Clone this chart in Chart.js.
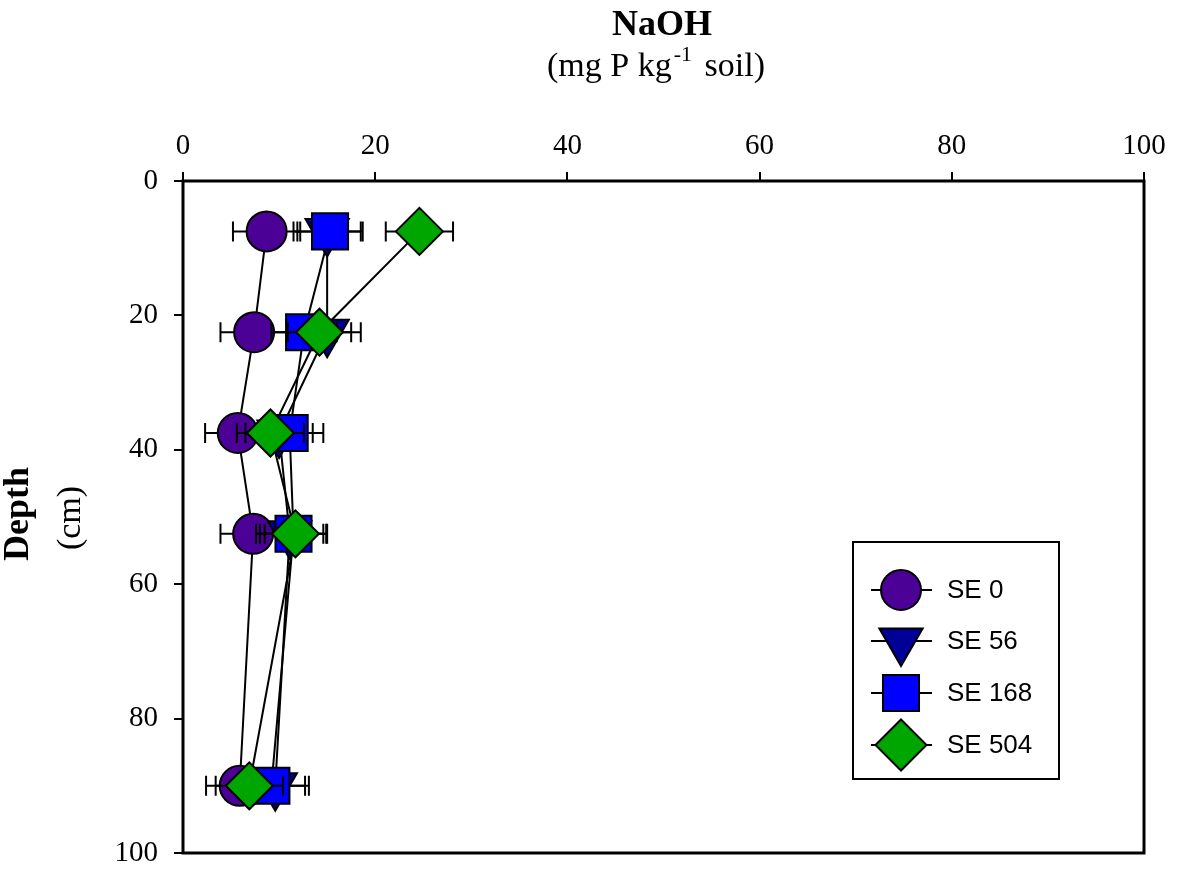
<!DOCTYPE html>
<html>
<head>
<meta charset="utf-8">
<script src="https://cdn.jsdelivr.net/npm/chart.js@4.4.1/dist/chart.umd.min.js"></script>
<style>
  html, body { margin: 0; padding: 0; background: #ffffff; }
  #wrap { width: 1180px; height: 869px; position: relative; }
</style>
</head>
<body>
<div id="wrap"><canvas id="c" width="1180" height="869"></canvas></div>
<script>
// Sampling depths (cm) and NaOH-extractable P (mg P kg-1 soil) per treatment
const depths = [7.5, 22.5, 37.5, 52.5, 90];
const seriesNames = ['SE 0', 'SE 56', 'SE 168', 'SE 504'];
const se0   = [8.7, 7.4, 5.7, 7.3, 5.9];
const se56  = [15.0, 15.0, 10.0, 11.1, 9.6];
const se168 = [15.3, 12.6, 11.1, 11.5, 9.2];
const se504 = [24.6, 14.2, 9.1, 11.7, 6.9];
// Standard errors (horizontal whiskers)
const err0   = [3.5, 3.5, 3.4, 3.4, 3.5];
const err56  = [3.5, 3.5, 3.5, 3.5, 3.5];
const err168 = [3.4, 3.4, 3.5, 3.5, 3.5];
const err504 = [3.5, 3.3, 3.5, 3.2, 3.5];
const xTicks = [0, 20, 40, 60, 80, 100];
const yTicks = [0, 20, 40, 60, 80, 100];

const colors = ['#4B0096', '#000099', '#0000FF', '#00A600'];
const shapes = ['circle', 'triangle', 'rect', 'rectRot'];
const radii = [20, 25, 25.5, 23.5];
const rotations = [0, 180, 0, 0];

const values = [se0, se56, se168, se504];
const errors = [err0, err56, err168, err504];

const serif = '"Liberation Serif", "Times New Roman", serif';
const sans = '"Liberation Sans", Arial, sans-serif';

const datasets = values.map((vals, i) => ({
  label: seriesNames[i],
  data: vals.map((v, k) => ({ x: v, y: depths[k] })),
  errors: errors[i],
  showLine: true,
  borderColor: '#000000',
  borderWidth: 2,
  pointStyle: shapes[i],
  pointRadius: radii[i],
  pointRotation: rotations[i],
  pointBackgroundColor: colors[i],
  pointBorderColor: '#000000',
  pointBorderWidth: 2,
  order: values.length - i
}));

// Horizontal error bars, drawn just before each series' line and markers
const errorBars = {
  id: 'errorBars',
  beforeDatasetDraw(chart, args) {
    const ds = chart.data.datasets[args.index];
    const xs = chart.scales.x, ys = chart.scales.y;
    const ctx = chart.ctx;
    ctx.save();
    ctx.strokeStyle = '#000';
    ctx.lineWidth = 2;
    ds.data.forEach((p, k) => {
      const e = ds.errors[k];
      const y = ys.getPixelForValue(p.y);
      const x0 = xs.getPixelForValue(p.x - e);
      const x1 = xs.getPixelForValue(p.x + e);
      ctx.beginPath();
      ctx.moveTo(x0, y); ctx.lineTo(x1, y);
      ctx.moveTo(x0, y - 10); ctx.lineTo(x0, y + 10);
      ctx.moveTo(x1, y - 10); ctx.lineTo(x1, y + 10);
      ctx.stroke();
    });
    ctx.restore();
  }
};

// Plot frame
const frame = {
  id: 'frame',
  beforeDatasetsDraw(chart) {
    const a = chart.chartArea, ctx = chart.ctx;
    ctx.save();
    ctx.strokeStyle = '#000';
    ctx.lineWidth = 3;
    ctx.strokeRect(a.left, a.top, a.right - a.left, a.bottom - a.top);
    ctx.restore();
  }
};

// Axis titles and legend box
const annotations = {
  id: 'annotations',
  afterDraw(chart) {
    const ctx = chart.ctx;
    ctx.save();
    ctx.fillStyle = '#000';
    // top title
    ctx.textAlign = 'center';
    ctx.textBaseline = 'alphabetic';
    ctx.font = 'bold 36px ' + serif;
    ctx.fillText('NaOH', 662, 35);
    // unit line with superscript
    const partA = '(mg P kg', partSup = '-1', partB = ' soil)';
    ctx.font = '34px ' + serif;
    const wA = ctx.measureText(partA).width;
    const wB = ctx.measureText(partB).width;
    ctx.font = '22px ' + serif;
    const wS = ctx.measureText(partSup).width;
    const total = wA + wS + 6 + wB;
    let x = 656 - total / 2;
    ctx.textAlign = 'left';
    ctx.font = '34px ' + serif;
    ctx.fillText(partA, x, 76);
    x += wA + 2;
    ctx.font = '22px ' + serif;
    ctx.fillText(partSup, x, 61);
    x += wS + 4;
    ctx.font = '34px ' + serif;
    ctx.fillText(partB, x, 76);

    // left title, rotated
    ctx.save();
    ctx.translate(28, 514);
    ctx.rotate(-Math.PI / 2);
    ctx.textAlign = 'center';
    ctx.font = 'bold 36px ' + serif;
    ctx.fillText('Depth', 0, 0);
    ctx.restore();
    ctx.save();
    ctx.translate(80, 518);
    ctx.rotate(-Math.PI / 2);
    ctx.textAlign = 'center';
    ctx.font = '34px ' + serif;
    ctx.fillText('(cm)', 0, 0);
    ctx.restore();

    // legend
    const bx = 853, by = 542, bw = 206, bh = 237;
    ctx.fillStyle = '#fff';
    ctx.fillRect(bx, by, bw, bh);
    ctx.strokeStyle = '#000';
    ctx.lineWidth = 2;
    ctx.strokeRect(bx, by, bw, bh);
    const rows = [590, 641, 693, 745];
    seriesNames.forEach((name, i) => {
      const cy = rows[i];
      ctx.strokeStyle = '#000';
      ctx.lineWidth = 2;
      ctx.beginPath();
      ctx.moveTo(871, cy); ctx.lineTo(932, cy);
      ctx.stroke();
      ctx.fillStyle = colors[i];
      ctx.strokeStyle = '#000';
      ctx.lineWidth = 2;
      Chart.helpers.drawPoint(ctx, {
        pointStyle: shapes[i],
        radius: i === 3 ? 25.5 : radii[i],
        rotation: rotations[i],
        borderWidth: 2
      }, 901, cy);
      ctx.fillStyle = '#000';
      ctx.font = '26px ' + sans;
      ctx.textAlign = 'left';
      ctx.textBaseline = 'middle';
      ctx.fillText(name, 947, cy + 1);
    });
    ctx.restore();
  }
};

new Chart(document.getElementById('c'), {
  type: 'scatter',
  data: { datasets },
  options: {
    responsive: false,
    animation: false,
    devicePixelRatio: 1,
    layout: { autoPadding: false, padding: { left: 0, top: 0, right: 36, bottom: 16 } },
    plugins: { legend: { display: false }, tooltip: { enabled: false } },
    scales: {
      x: {
        type: 'linear',
        position: 'top',
        min: 0, max: 100,
        afterFit(s) { s.height = 181; s.paddingLeft = 0; s.paddingRight = 0; },
        afterBuildTicks(s) { s.ticks = xTicks.map(v => ({ value: v })); },
        grid: { display: true, drawOnChartArea: false, drawTicks: true, tickLength: 9, color: '#000', lineWidth: 2 },
        border: { display: false },
        ticks: { color: '#000', padding: 8, maxRotation: 0, font: { family: serif, size: 29 } }
      },
      y: {
        type: 'linear',
        reverse: true,
        min: 0, max: 100,
        afterFit(s) { s.width = 183; s.paddingTop = 0; s.paddingBottom = 0; },
        afterBuildTicks(s) { s.ticks = yTicks.map(v => ({ value: v })); },
        grid: { display: true, drawOnChartArea: false, drawTicks: true, tickLength: 9, color: '#000', lineWidth: 2 },
        border: { display: false },
        ticks: { color: '#000', padding: 16, font: { family: serif, size: 29 } }
      }
    }
  },
  plugins: [frame, errorBars, annotations]
});
</script>
</body>
</html>
